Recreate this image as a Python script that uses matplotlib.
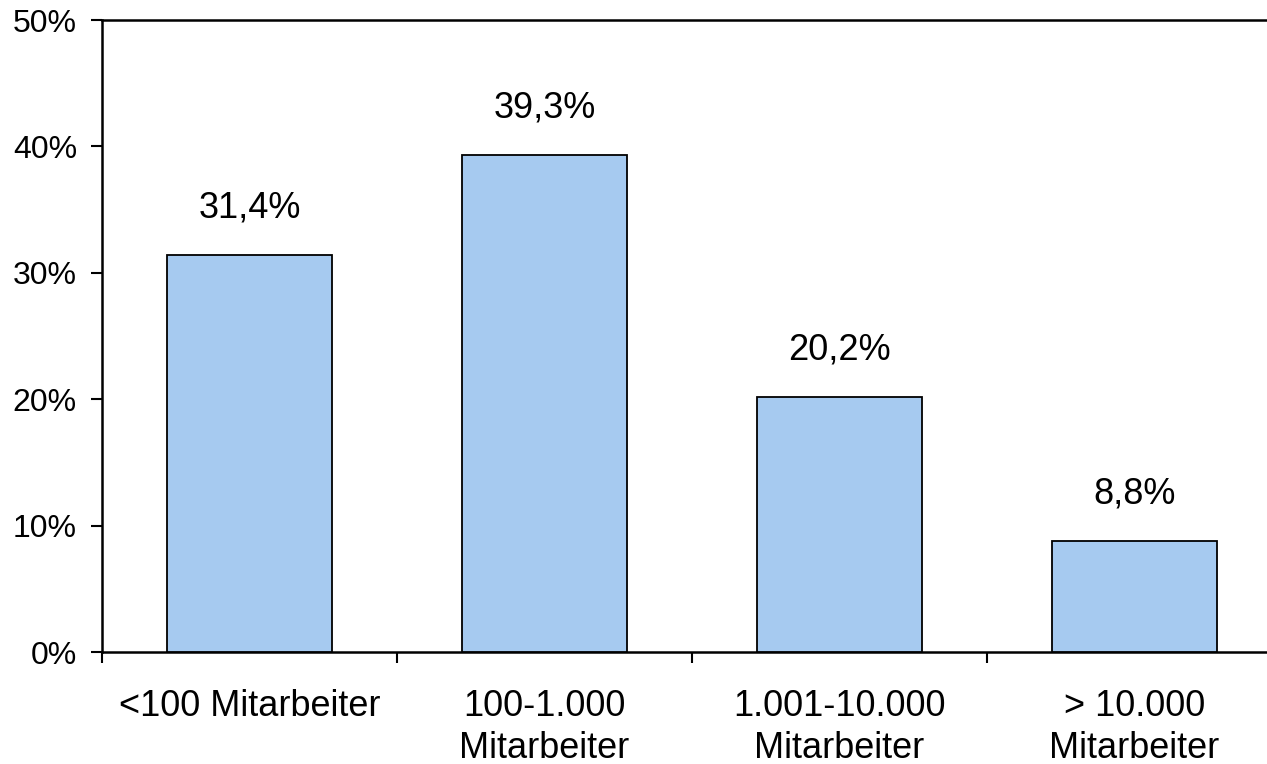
import matplotlib.pyplot as plt

categories = ["<100 Mitarbeiter", "100-1.000\nMitarbeiter", "1.001-10.000\nMitarbeiter", "> 10.000\nMitarbeiter"]
values = [31.4, 39.3, 20.2, 8.8]
value_labels = ["31,4%", "39,3%", "20,2%", "8,8%"]
y_ticks = [0, 10, 20, 30, 40, 50]
y_tick_labels = ["0%", "10%", "20%", "30%", "40%", "50%"]

plt.rcParams['font.family'] = ['Liberation Sans', 'DejaVu Sans']

fig = plt.figure(figsize=(12.67, 7.64), dpi=100)
ax = fig.add_axes([102 / 1267, 112 / 764, 1180 / 1267, 632 / 764])

x = list(range(len(categories)))
ax.bar(x, values, width=0.56, color='#A6CAF0', edgecolor='black', linewidth=1.3, zorder=3)

# Werte ueber den Balken
for xi, v, lab in zip(x, values, value_labels):
    ax.annotate(lab, (xi, v), xytext=(0, 27), textcoords='offset points',
                ha='center', va='baseline', fontsize=26)

ax.set_xlim(-0.5, len(categories) - 0.5)
ax.set_ylim(0, 50)

# Striche an den Kategoriegrenzen, Beschriftung in der Mitte
ax.set_xticks([i - 0.5 for i in range(len(categories) + 1)])
ax.set_xticklabels([])
ax.set_xticks(x, minor=True)
ax.set_xticklabels(categories, minor=True, fontsize=26, linespacing=1.25)
ax.tick_params(axis='x', which='major', length=8, width=1.5, direction='out')
ax.tick_params(axis='x', which='minor', length=0, pad=27)

ax.set_yticks(y_ticks)
ax.set_yticklabels(y_tick_labels, fontsize=23)
ax.tick_params(axis='y', length=8, width=1.5, direction='out', pad=10)

ax.spines['right'].set_visible(False)
for s in ['left', 'bottom', 'top']:
    ax.spines[s].set_linewidth(1.8)

fig.savefig('out.png', dpi=100)
